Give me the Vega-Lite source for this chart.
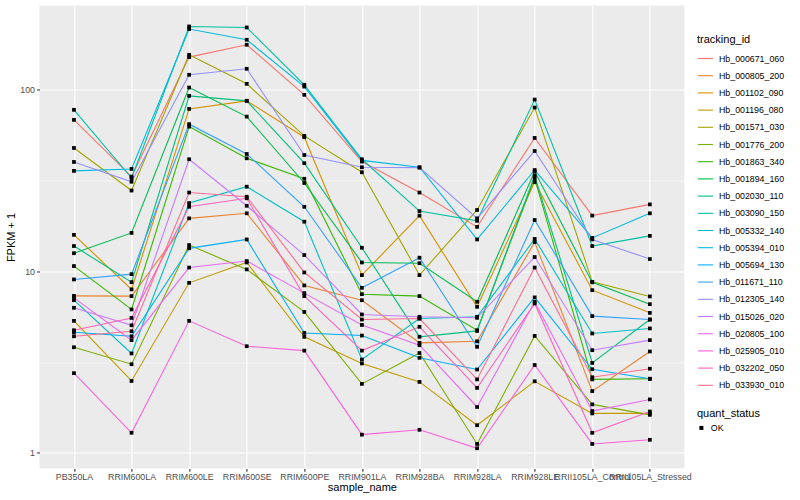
{
  "$schema": "https://vega.github.io/schema/vega-lite/v6.json",
  "width": 645,
  "height": 463,
  "autosize": {"type": "none"},
  "padding": {"left": 39.4, "top": 5.5, "right": 115.6, "bottom": 31.5},
  "background": "white",
  "data": {"values": [
    {"tracking_id":"Hb_000671_060","sample_name":"PB350LA","fpkm1":68.4,"quant_status":"OK"},
    {"tracking_id":"Hb_000671_060","sample_name":"RRIM600LA","fpkm1":33.3,"quant_status":"OK"},
    {"tracking_id":"Hb_000671_060","sample_name":"RRIM600LE","fpkm1":151.7,"quant_status":"OK"},
    {"tracking_id":"Hb_000671_060","sample_name":"RRIM600SE","fpkm1":177.4,"quant_status":"OK"},
    {"tracking_id":"Hb_000671_060","sample_name":"RRIM600PE","fpkm1":94.0,"quant_status":"OK"},
    {"tracking_id":"Hb_000671_060","sample_name":"RRIM901LA","fpkm1":40.3,"quant_status":"OK"},
    {"tracking_id":"Hb_000671_060","sample_name":"RRIM928BA","fpkm1":27.2,"quant_status":"OK"},
    {"tracking_id":"Hb_000671_060","sample_name":"RRIM928LA","fpkm1":17.6,"quant_status":"OK"},
    {"tracking_id":"Hb_000671_060","sample_name":"RRIM928LE","fpkm1":54.4,"quant_status":"OK"},
    {"tracking_id":"Hb_000671_060","sample_name":"RRII105LA_Control","fpkm1":20.3,"quant_status":"OK"},
    {"tracking_id":"Hb_000671_060","sample_name":"RRII105LA_Stressed","fpkm1":23.4,"quant_status":"OK"},

    {"tracking_id":"Hb_000805_200","sample_name":"PB350LA","fpkm1":7.33,"quant_status":"OK"},
    {"tracking_id":"Hb_000805_200","sample_name":"RRIM600LA","fpkm1":7.31,"quant_status":"OK"},
    {"tracking_id":"Hb_000805_200","sample_name":"RRIM600LE","fpkm1":19.6,"quant_status":"OK"},
    {"tracking_id":"Hb_000805_200","sample_name":"RRIM600SE","fpkm1":20.9,"quant_status":"OK"},
    {"tracking_id":"Hb_000805_200","sample_name":"RRIM600PE","fpkm1":8.37,"quant_status":"OK"},
    {"tracking_id":"Hb_000805_200","sample_name":"RRIM901LA","fpkm1":6.94,"quant_status":"OK"},
    {"tracking_id":"Hb_000805_200","sample_name":"RRIM928BA","fpkm1":4.04,"quant_status":"OK"},
    {"tracking_id":"Hb_000805_200","sample_name":"RRIM928LA","fpkm1":4.12,"quant_status":"OK"},
    {"tracking_id":"Hb_000805_200","sample_name":"RRIM928LE","fpkm1":14.5,"quant_status":"OK"},
    {"tracking_id":"Hb_000805_200","sample_name":"RRII105LA_Control","fpkm1":2.19,"quant_status":"OK"},
    {"tracking_id":"Hb_000805_200","sample_name":"RRII105LA_Stressed","fpkm1":3.62,"quant_status":"OK"},

    {"tracking_id":"Hb_001102_090","sample_name":"PB350LA","fpkm1":15.9,"quant_status":"OK"},
    {"tracking_id":"Hb_001102_090","sample_name":"RRIM600LA","fpkm1":7.96,"quant_status":"OK"},
    {"tracking_id":"Hb_001102_090","sample_name":"RRIM600LE","fpkm1":78.6,"quant_status":"OK"},
    {"tracking_id":"Hb_001102_090","sample_name":"RRIM600SE","fpkm1":87.1,"quant_status":"OK"},
    {"tracking_id":"Hb_001102_090","sample_name":"RRIM600PE","fpkm1":54.9,"quant_status":"OK"},
    {"tracking_id":"Hb_001102_090","sample_name":"RRIM901LA","fpkm1":9.54,"quant_status":"OK"},
    {"tracking_id":"Hb_001102_090","sample_name":"RRIM928BA","fpkm1":20.3,"quant_status":"OK"},
    {"tracking_id":"Hb_001102_090","sample_name":"RRIM928LA","fpkm1":6.38,"quant_status":"OK"},
    {"tracking_id":"Hb_001102_090","sample_name":"RRIM928LE","fpkm1":31.1,"quant_status":"OK"},
    {"tracking_id":"Hb_001102_090","sample_name":"RRII105LA_Control","fpkm1":7.88,"quant_status":"OK"},
    {"tracking_id":"Hb_001102_090","sample_name":"RRII105LA_Stressed","fpkm1":5.91,"quant_status":"OK"},

    {"tracking_id":"Hb_001196_080","sample_name":"PB350LA","fpkm1":5.34,"quant_status":"OK"},
    {"tracking_id":"Hb_001196_080","sample_name":"RRIM600LA","fpkm1":2.49,"quant_status":"OK"},
    {"tracking_id":"Hb_001196_080","sample_name":"RRIM600LE","fpkm1":8.65,"quant_status":"OK"},
    {"tracking_id":"Hb_001196_080","sample_name":"RRIM600SE","fpkm1":11.2,"quant_status":"OK"},
    {"tracking_id":"Hb_001196_080","sample_name":"RRIM600PE","fpkm1":4.36,"quant_status":"OK"},
    {"tracking_id":"Hb_001196_080","sample_name":"RRIM901LA","fpkm1":3.11,"quant_status":"OK"},
    {"tracking_id":"Hb_001196_080","sample_name":"RRIM928BA","fpkm1":2.46,"quant_status":"OK"},
    {"tracking_id":"Hb_001196_080","sample_name":"RRIM928LA","fpkm1":1.42,"quant_status":"OK"},
    {"tracking_id":"Hb_001196_080","sample_name":"RRIM928LE","fpkm1":2.48,"quant_status":"OK"},
    {"tracking_id":"Hb_001196_080","sample_name":"RRII105LA_Control","fpkm1":1.65,"quant_status":"OK"},
    {"tracking_id":"Hb_001196_080","sample_name":"RRII105LA_Stressed","fpkm1":1.65,"quant_status":"OK"},

    {"tracking_id":"Hb_001571_030","sample_name":"PB350LA","fpkm1":47.9,"quant_status":"OK"},
    {"tracking_id":"Hb_001571_030","sample_name":"RRIM600LA","fpkm1":27.9,"quant_status":"OK"},
    {"tracking_id":"Hb_001571_030","sample_name":"RRIM600LE","fpkm1":156.2,"quant_status":"OK"},
    {"tracking_id":"Hb_001571_030","sample_name":"RRIM600SE","fpkm1":108.1,"quant_status":"OK"},
    {"tracking_id":"Hb_001571_030","sample_name":"RRIM600PE","fpkm1":55.8,"quant_status":"OK"},
    {"tracking_id":"Hb_001571_030","sample_name":"RRIM901LA","fpkm1":35.2,"quant_status":"OK"},
    {"tracking_id":"Hb_001571_030","sample_name":"RRIM928BA","fpkm1":9.54,"quant_status":"OK"},
    {"tracking_id":"Hb_001571_030","sample_name":"RRIM928LA","fpkm1":21.8,"quant_status":"OK"},
    {"tracking_id":"Hb_001571_030","sample_name":"RRIM928LE","fpkm1":80.0,"quant_status":"OK"},
    {"tracking_id":"Hb_001571_030","sample_name":"RRII105LA_Control","fpkm1":8.76,"quant_status":"OK"},
    {"tracking_id":"Hb_001571_030","sample_name":"RRII105LA_Stressed","fpkm1":7.28,"quant_status":"OK"},

    {"tracking_id":"Hb_001776_200","sample_name":"PB350LA","fpkm1":3.82,"quant_status":"OK"},
    {"tracking_id":"Hb_001776_200","sample_name":"RRIM600LA","fpkm1":3.08,"quant_status":"OK"},
    {"tracking_id":"Hb_001776_200","sample_name":"RRIM600LE","fpkm1":13.97,"quant_status":"OK"},
    {"tracking_id":"Hb_001776_200","sample_name":"RRIM600SE","fpkm1":10.26,"quant_status":"OK"},
    {"tracking_id":"Hb_001776_200","sample_name":"RRIM600PE","fpkm1":5.98,"quant_status":"OK"},
    {"tracking_id":"Hb_001776_200","sample_name":"RRIM901LA","fpkm1":2.40,"quant_status":"OK"},
    {"tracking_id":"Hb_001776_200","sample_name":"RRIM928BA","fpkm1":3.55,"quant_status":"OK"},
    {"tracking_id":"Hb_001776_200","sample_name":"RRIM928LA","fpkm1":1.12,"quant_status":"OK"},
    {"tracking_id":"Hb_001776_200","sample_name":"RRIM928LE","fpkm1":4.41,"quant_status":"OK"},
    {"tracking_id":"Hb_001776_200","sample_name":"RRII105LA_Control","fpkm1":1.85,"quant_status":"OK"},
    {"tracking_id":"Hb_001776_200","sample_name":"RRII105LA_Stressed","fpkm1":1.62,"quant_status":"OK"},

    {"tracking_id":"Hb_001863_340","sample_name":"PB350LA","fpkm1":10.7,"quant_status":"OK"},
    {"tracking_id":"Hb_001863_340","sample_name":"RRIM600LA","fpkm1":6.17,"quant_status":"OK"},
    {"tracking_id":"Hb_001863_340","sample_name":"RRIM600LE","fpkm1":62.8,"quant_status":"OK"},
    {"tracking_id":"Hb_001863_340","sample_name":"RRIM600SE","fpkm1":42.0,"quant_status":"OK"},
    {"tracking_id":"Hb_001863_340","sample_name":"RRIM600PE","fpkm1":32.4,"quant_status":"OK"},
    {"tracking_id":"Hb_001863_340","sample_name":"RRIM901LA","fpkm1":7.49,"quant_status":"OK"},
    {"tracking_id":"Hb_001863_340","sample_name":"RRIM928BA","fpkm1":7.31,"quant_status":"OK"},
    {"tracking_id":"Hb_001863_340","sample_name":"RRIM928LA","fpkm1":4.74,"quant_status":"OK"},
    {"tracking_id":"Hb_001863_340","sample_name":"RRIM928LE","fpkm1":32.7,"quant_status":"OK"},
    {"tracking_id":"Hb_001863_340","sample_name":"RRII105LA_Control","fpkm1":2.54,"quant_status":"OK"},
    {"tracking_id":"Hb_001863_340","sample_name":"RRII105LA_Stressed","fpkm1":2.56,"quant_status":"OK"},

    {"tracking_id":"Hb_001894_160","sample_name":"PB350LA","fpkm1":12.6,"quant_status":"OK"},
    {"tracking_id":"Hb_001894_160","sample_name":"RRIM600LA","fpkm1":16.3,"quant_status":"OK"},
    {"tracking_id":"Hb_001894_160","sample_name":"RRIM600LE","fpkm1":103.1,"quant_status":"OK"},
    {"tracking_id":"Hb_001894_160","sample_name":"RRIM600SE","fpkm1":71.3,"quant_status":"OK"},
    {"tracking_id":"Hb_001894_160","sample_name":"RRIM600PE","fpkm1":30.7,"quant_status":"OK"},
    {"tracking_id":"Hb_001894_160","sample_name":"RRIM901LA","fpkm1":11.2,"quant_status":"OK"},
    {"tracking_id":"Hb_001894_160","sample_name":"RRIM928BA","fpkm1":11.1,"quant_status":"OK"},
    {"tracking_id":"Hb_001894_160","sample_name":"RRIM928LA","fpkm1":6.80,"quant_status":"OK"},
    {"tracking_id":"Hb_001894_160","sample_name":"RRIM928LE","fpkm1":35.5,"quant_status":"OK"},
    {"tracking_id":"Hb_001894_160","sample_name":"RRII105LA_Control","fpkm1":8.70,"quant_status":"OK"},
    {"tracking_id":"Hb_001894_160","sample_name":"RRII105LA_Stressed","fpkm1":6.60,"quant_status":"OK"},

    {"tracking_id":"Hb_002030_110","sample_name":"PB350LA","fpkm1":13.8,"quant_status":"OK"},
    {"tracking_id":"Hb_002030_110","sample_name":"RRIM600LA","fpkm1":8.73,"quant_status":"OK"},
    {"tracking_id":"Hb_002030_110","sample_name":"RRIM600LE","fpkm1":92.8,"quant_status":"OK"},
    {"tracking_id":"Hb_002030_110","sample_name":"RRIM600SE","fpkm1":87.1,"quant_status":"OK"},
    {"tracking_id":"Hb_002030_110","sample_name":"RRIM600PE","fpkm1":39.5,"quant_status":"OK"},
    {"tracking_id":"Hb_002030_110","sample_name":"RRIM901LA","fpkm1":13.5,"quant_status":"OK"},
    {"tracking_id":"Hb_002030_110","sample_name":"RRIM928BA","fpkm1":4.36,"quant_status":"OK"},
    {"tracking_id":"Hb_002030_110","sample_name":"RRIM928LA","fpkm1":4.70,"quant_status":"OK"},
    {"tracking_id":"Hb_002030_110","sample_name":"RRIM928LE","fpkm1":33.7,"quant_status":"OK"},
    {"tracking_id":"Hb_002030_110","sample_name":"RRII105LA_Control","fpkm1":3.13,"quant_status":"OK"},
    {"tracking_id":"Hb_002030_110","sample_name":"RRII105LA_Stressed","fpkm1":5.43,"quant_status":"OK"},

    {"tracking_id":"Hb_003090_150","sample_name":"PB350LA","fpkm1":77.7,"quant_status":"OK"},
    {"tracking_id":"Hb_003090_150","sample_name":"RRIM600LA","fpkm1":32.7,"quant_status":"OK"},
    {"tracking_id":"Hb_003090_150","sample_name":"RRIM600LE","fpkm1":223.8,"quant_status":"OK"},
    {"tracking_id":"Hb_003090_150","sample_name":"RRIM600SE","fpkm1":221.0,"quant_status":"OK"},
    {"tracking_id":"Hb_003090_150","sample_name":"RRIM600PE","fpkm1":106.7,"quant_status":"OK"},
    {"tracking_id":"Hb_003090_150","sample_name":"RRIM901LA","fpkm1":41.5,"quant_status":"OK"},
    {"tracking_id":"Hb_003090_150","sample_name":"RRIM928BA","fpkm1":21.5,"quant_status":"OK"},
    {"tracking_id":"Hb_003090_150","sample_name":"RRIM928LA","fpkm1":19.0,"quant_status":"OK"},
    {"tracking_id":"Hb_003090_150","sample_name":"RRIM928LE","fpkm1":88.5,"quant_status":"OK"},
    {"tracking_id":"Hb_003090_150","sample_name":"RRII105LA_Control","fpkm1":13.8,"quant_status":"OK"},
    {"tracking_id":"Hb_003090_150","sample_name":"RRII105LA_Stressed","fpkm1":15.7,"quant_status":"OK"},

    {"tracking_id":"Hb_005332_140","sample_name":"PB350LA","fpkm1":6.94,"quant_status":"OK"},
    {"tracking_id":"Hb_005332_140","sample_name":"RRIM600LA","fpkm1":3.53,"quant_status":"OK"},
    {"tracking_id":"Hb_005332_140","sample_name":"RRIM600LE","fpkm1":23.8,"quant_status":"OK"},
    {"tracking_id":"Hb_005332_140","sample_name":"RRIM600SE","fpkm1":29.3,"quant_status":"OK"},
    {"tracking_id":"Hb_005332_140","sample_name":"RRIM600PE","fpkm1":18.8,"quant_status":"OK"},
    {"tracking_id":"Hb_005332_140","sample_name":"RRIM901LA","fpkm1":3.27,"quant_status":"OK"},
    {"tracking_id":"Hb_005332_140","sample_name":"RRIM928BA","fpkm1":5.50,"quant_status":"OK"},
    {"tracking_id":"Hb_005332_140","sample_name":"RRIM928LA","fpkm1":5.62,"quant_status":"OK"},
    {"tracking_id":"Hb_005332_140","sample_name":"RRIM928LE","fpkm1":15.1,"quant_status":"OK"},
    {"tracking_id":"Hb_005332_140","sample_name":"RRII105LA_Control","fpkm1":4.55,"quant_status":"OK"},
    {"tracking_id":"Hb_005332_140","sample_name":"RRII105LA_Stressed","fpkm1":4.85,"quant_status":"OK"},

    {"tracking_id":"Hb_005394_010","sample_name":"PB350LA","fpkm1":35.8,"quant_status":"OK"},
    {"tracking_id":"Hb_005394_010","sample_name":"RRIM600LA","fpkm1":36.7,"quant_status":"OK"},
    {"tracking_id":"Hb_005394_010","sample_name":"RRIM600LE","fpkm1":216.5,"quant_status":"OK"},
    {"tracking_id":"Hb_005394_010","sample_name":"RRIM600SE","fpkm1":189.0,"quant_status":"OK"},
    {"tracking_id":"Hb_005394_010","sample_name":"RRIM600PE","fpkm1":104.4,"quant_status":"OK"},
    {"tracking_id":"Hb_005394_010","sample_name":"RRIM901LA","fpkm1":40.9,"quant_status":"OK"},
    {"tracking_id":"Hb_005394_010","sample_name":"RRIM928BA","fpkm1":37.5,"quant_status":"OK"},
    {"tracking_id":"Hb_005394_010","sample_name":"RRIM928LA","fpkm1":15.0,"quant_status":"OK"},
    {"tracking_id":"Hb_005394_010","sample_name":"RRIM928LE","fpkm1":36.2,"quant_status":"OK"},
    {"tracking_id":"Hb_005394_010","sample_name":"RRII105LA_Control","fpkm1":15.3,"quant_status":"OK"},
    {"tracking_id":"Hb_005394_010","sample_name":"RRII105LA_Stressed","fpkm1":20.9,"quant_status":"OK"},

    {"tracking_id":"Hb_005694_130","sample_name":"PB350LA","fpkm1":4.62,"quant_status":"OK"},
    {"tracking_id":"Hb_005694_130","sample_name":"RRIM600LA","fpkm1":4.39,"quant_status":"OK"},
    {"tracking_id":"Hb_005694_130","sample_name":"RRIM600LE","fpkm1":13.4,"quant_status":"OK"},
    {"tracking_id":"Hb_005694_130","sample_name":"RRIM600SE","fpkm1":15.0,"quant_status":"OK"},
    {"tracking_id":"Hb_005694_130","sample_name":"RRIM600PE","fpkm1":4.58,"quant_status":"OK"},
    {"tracking_id":"Hb_005694_130","sample_name":"RRIM901LA","fpkm1":4.43,"quant_status":"OK"},
    {"tracking_id":"Hb_005694_130","sample_name":"RRIM928BA","fpkm1":3.34,"quant_status":"OK"},
    {"tracking_id":"Hb_005694_130","sample_name":"RRIM928LA","fpkm1":2.88,"quant_status":"OK"},
    {"tracking_id":"Hb_005694_130","sample_name":"RRIM928LE","fpkm1":7.19,"quant_status":"OK"},
    {"tracking_id":"Hb_005694_130","sample_name":"RRII105LA_Control","fpkm1":2.89,"quant_status":"OK"},
    {"tracking_id":"Hb_005694_130","sample_name":"RRII105LA_Stressed","fpkm1":2.56,"quant_status":"OK"},

    {"tracking_id":"Hb_011671_110","sample_name":"PB350LA","fpkm1":9.03,"quant_status":"OK"},
    {"tracking_id":"Hb_011671_110","sample_name":"RRIM600LA","fpkm1":9.66,"quant_status":"OK"},
    {"tracking_id":"Hb_011671_110","sample_name":"RRIM600LE","fpkm1":64.8,"quant_status":"OK"},
    {"tracking_id":"Hb_011671_110","sample_name":"RRIM600SE","fpkm1":44.4,"quant_status":"OK"},
    {"tracking_id":"Hb_011671_110","sample_name":"RRIM600PE","fpkm1":22.7,"quant_status":"OK"},
    {"tracking_id":"Hb_011671_110","sample_name":"RRIM901LA","fpkm1":8.12,"quant_status":"OK"},
    {"tracking_id":"Hb_011671_110","sample_name":"RRIM928BA","fpkm1":11.9,"quant_status":"OK"},
    {"tracking_id":"Hb_011671_110","sample_name":"RRIM928LA","fpkm1":3.84,"quant_status":"OK"},
    {"tracking_id":"Hb_011671_110","sample_name":"RRIM928LE","fpkm1":19.2,"quant_status":"OK"},
    {"tracking_id":"Hb_011671_110","sample_name":"RRII105LA_Control","fpkm1":5.67,"quant_status":"OK"},
    {"tracking_id":"Hb_011671_110","sample_name":"RRII105LA_Stressed","fpkm1":5.43,"quant_status":"OK"},

    {"tracking_id":"Hb_012305_140","sample_name":"PB350LA","fpkm1":40.1,"quant_status":"OK"},
    {"tracking_id":"Hb_012305_140","sample_name":"RRIM600LA","fpkm1":31.2,"quant_status":"OK"},
    {"tracking_id":"Hb_012305_140","sample_name":"RRIM600LE","fpkm1":121.2,"quant_status":"OK"},
    {"tracking_id":"Hb_012305_140","sample_name":"RRIM600SE","fpkm1":130.8,"quant_status":"OK"},
    {"tracking_id":"Hb_012305_140","sample_name":"RRIM600PE","fpkm1":43.8,"quant_status":"OK"},
    {"tracking_id":"Hb_012305_140","sample_name":"RRIM901LA","fpkm1":37.5,"quant_status":"OK"},
    {"tracking_id":"Hb_012305_140","sample_name":"RRIM928BA","fpkm1":37.3,"quant_status":"OK"},
    {"tracking_id":"Hb_012305_140","sample_name":"RRIM928LA","fpkm1":19.6,"quant_status":"OK"},
    {"tracking_id":"Hb_012305_140","sample_name":"RRIM928LE","fpkm1":46.1,"quant_status":"OK"},
    {"tracking_id":"Hb_012305_140","sample_name":"RRII105LA_Control","fpkm1":15.0,"quant_status":"OK"},
    {"tracking_id":"Hb_012305_140","sample_name":"RRII105LA_Stressed","fpkm1":11.7,"quant_status":"OK"},

    {"tracking_id":"Hb_015026_020","sample_name":"PB350LA","fpkm1":6.30,"quant_status":"OK"},
    {"tracking_id":"Hb_015026_020","sample_name":"RRIM600LA","fpkm1":5.05,"quant_status":"OK"},
    {"tracking_id":"Hb_015026_020","sample_name":"RRIM600LE","fpkm1":41.5,"quant_status":"OK"},
    {"tracking_id":"Hb_015026_020","sample_name":"RRIM600SE","fpkm1":23.0,"quant_status":"OK"},
    {"tracking_id":"Hb_015026_020","sample_name":"RRIM600PE","fpkm1":12.3,"quant_status":"OK"},
    {"tracking_id":"Hb_015026_020","sample_name":"RRIM901LA","fpkm1":5.79,"quant_status":"OK"},
    {"tracking_id":"Hb_015026_020","sample_name":"RRIM928BA","fpkm1":5.62,"quant_status":"OK"},
    {"tracking_id":"Hb_015026_020","sample_name":"RRIM928LA","fpkm1":5.55,"quant_status":"OK"},
    {"tracking_id":"Hb_015026_020","sample_name":"RRIM928LE","fpkm1":12.0,"quant_status":"OK"},
    {"tracking_id":"Hb_015026_020","sample_name":"RRII105LA_Control","fpkm1":3.68,"quant_status":"OK"},
    {"tracking_id":"Hb_015026_020","sample_name":"RRII105LA_Stressed","fpkm1":4.18,"quant_status":"OK"},

    {"tracking_id":"Hb_020805_100","sample_name":"PB350LA","fpkm1":7.15,"quant_status":"OK"},
    {"tracking_id":"Hb_020805_100","sample_name":"RRIM600LA","fpkm1":4.18,"quant_status":"OK"},
    {"tracking_id":"Hb_020805_100","sample_name":"RRIM600LE","fpkm1":10.5,"quant_status":"OK"},
    {"tracking_id":"Hb_020805_100","sample_name":"RRIM600SE","fpkm1":11.4,"quant_status":"OK"},
    {"tracking_id":"Hb_020805_100","sample_name":"RRIM600PE","fpkm1":7.59,"quant_status":"OK"},
    {"tracking_id":"Hb_020805_100","sample_name":"RRIM901LA","fpkm1":5.07,"quant_status":"OK"},
    {"tracking_id":"Hb_020805_100","sample_name":"RRIM928BA","fpkm1":3.92,"quant_status":"OK"},
    {"tracking_id":"Hb_020805_100","sample_name":"RRIM928LA","fpkm1":1.79,"quant_status":"OK"},
    {"tracking_id":"Hb_020805_100","sample_name":"RRIM928LE","fpkm1":6.80,"quant_status":"OK"},
    {"tracking_id":"Hb_020805_100","sample_name":"RRII105LA_Control","fpkm1":1.70,"quant_status":"OK"},
    {"tracking_id":"Hb_020805_100","sample_name":"RRII105LA_Stressed","fpkm1":1.97,"quant_status":"OK"},

    {"tracking_id":"Hb_025905_010","sample_name":"PB350LA","fpkm1":2.75,"quant_status":"OK"},
    {"tracking_id":"Hb_025905_010","sample_name":"RRIM600LA","fpkm1":1.29,"quant_status":"OK"},
    {"tracking_id":"Hb_025905_010","sample_name":"RRIM600LE","fpkm1":5.34,"quant_status":"OK"},
    {"tracking_id":"Hb_025905_010","sample_name":"RRIM600SE","fpkm1":3.87,"quant_status":"OK"},
    {"tracking_id":"Hb_025905_010","sample_name":"RRIM600PE","fpkm1":3.66,"quant_status":"OK"},
    {"tracking_id":"Hb_025905_010","sample_name":"RRIM901LA","fpkm1":1.26,"quant_status":"OK"},
    {"tracking_id":"Hb_025905_010","sample_name":"RRIM928BA","fpkm1":1.34,"quant_status":"OK"},
    {"tracking_id":"Hb_025905_010","sample_name":"RRIM928LA","fpkm1":1.06,"quant_status":"OK"},
    {"tracking_id":"Hb_025905_010","sample_name":"RRIM928LE","fpkm1":3.05,"quant_status":"OK"},
    {"tracking_id":"Hb_025905_010","sample_name":"RRII105LA_Control","fpkm1":1.12,"quant_status":"OK"},
    {"tracking_id":"Hb_025905_010","sample_name":"RRII105LA_Stressed","fpkm1":1.18,"quant_status":"OK"},

    {"tracking_id":"Hb_032202_050","sample_name":"PB350LA","fpkm1":4.74,"quant_status":"OK"},
    {"tracking_id":"Hb_032202_050","sample_name":"RRIM600LA","fpkm1":5.54,"quant_status":"OK"},
    {"tracking_id":"Hb_032202_050","sample_name":"RRIM600LE","fpkm1":22.7,"quant_status":"OK"},
    {"tracking_id":"Hb_032202_050","sample_name":"RRIM600SE","fpkm1":25.3,"quant_status":"OK"},
    {"tracking_id":"Hb_032202_050","sample_name":"RRIM600PE","fpkm1":7.31,"quant_status":"OK"},
    {"tracking_id":"Hb_032202_050","sample_name":"RRIM901LA","fpkm1":3.66,"quant_status":"OK"},
    {"tracking_id":"Hb_032202_050","sample_name":"RRIM928BA","fpkm1":4.95,"quant_status":"OK"},
    {"tracking_id":"Hb_032202_050","sample_name":"RRIM928LA","fpkm1":2.28,"quant_status":"OK"},
    {"tracking_id":"Hb_032202_050","sample_name":"RRIM928LE","fpkm1":6.66,"quant_status":"OK"},
    {"tracking_id":"Hb_032202_050","sample_name":"RRII105LA_Control","fpkm1":1.29,"quant_status":"OK"},
    {"tracking_id":"Hb_032202_050","sample_name":"RRII105LA_Stressed","fpkm1":1.69,"quant_status":"OK"},

    {"tracking_id":"Hb_033930_010","sample_name":"PB350LA","fpkm1":4.39,"quant_status":"OK"},
    {"tracking_id":"Hb_033930_010","sample_name":"RRIM600LA","fpkm1":4.68,"quant_status":"OK"},
    {"tracking_id":"Hb_033930_010","sample_name":"RRIM600LE","fpkm1":27.2,"quant_status":"OK"},
    {"tracking_id":"Hb_033930_010","sample_name":"RRIM600SE","fpkm1":25.8,"quant_status":"OK"},
    {"tracking_id":"Hb_033930_010","sample_name":"RRIM600PE","fpkm1":9.87,"quant_status":"OK"},
    {"tracking_id":"Hb_033930_010","sample_name":"RRIM901LA","fpkm1":5.43,"quant_status":"OK"},
    {"tracking_id":"Hb_033930_010","sample_name":"RRIM928BA","fpkm1":5.50,"quant_status":"OK"},
    {"tracking_id":"Hb_033930_010","sample_name":"RRIM928LA","fpkm1":2.54,"quant_status":"OK"},
    {"tracking_id":"Hb_033930_010","sample_name":"RRIM928LE","fpkm1":10.5,"quant_status":"OK"},
    {"tracking_id":"Hb_033930_010","sample_name":"RRII105LA_Control","fpkm1":2.61,"quant_status":"OK"},
    {"tracking_id":"Hb_033930_010","sample_name":"RRII105LA_Stressed","fpkm1":2.91,"quant_status":"OK"}
  ]},
  "encoding": {
    "x": {
      "field": "sample_name", "type": "nominal",
      "scale": {"type": "point", "padding": 0.6, "domain": ["PB350LA","RRIM600LA","RRIM600LE","RRIM600SE","RRIM600PE","RRIM901LA","RRIM928BA","RRIM928LA","RRIM928LE","RRII105LA_Control","RRII105LA_Stressed"]},
      "axis": {"title": "sample_name", "labelAngle": 0, "labelOverlap": false, "labelBound": false, "labelFlush": false, "grid": true, "labelPadding": 1.2, "titlePadding": 0}
    },
    "y": {
      "field": "fpkm1", "type": "quantitative",
      "scale": {"type": "log", "domain": [0.82, 292], "nice": false, "zero": false},
      "axis": {
        "title": "FPKM + 1",
        "values": [1, 3.16228, 10, 31.6228, 100],
        "labelExpr": "datum.value == 1 ? '1' : datum.value == 10 ? '10' : datum.value == 100 ? '100' : ''",
        "gridWidth": {"condition": {"test": "datum.value == 1 || datum.value == 10 || datum.value == 100", "value": 1.1}, "value": 0.55},
        "tickOpacity": {"condition": {"test": "datum.value == 1 || datum.value == 10 || datum.value == 100", "value": 1}, "value": 0},
        "labelPadding": 2.2,
        "titlePadding": 3
      }
    }
  },
  "layer": [
    {
      "mark": {"type": "line", "strokeWidth": 1.1},
      "encoding": {
        "color": {
          "field": "tracking_id", "type": "nominal",
          "scale": {
            "domain": ["Hb_000671_060","Hb_000805_200","Hb_001102_090","Hb_001196_080","Hb_001571_030","Hb_001776_200","Hb_001863_340","Hb_001894_160","Hb_002030_110","Hb_003090_150","Hb_005332_140","Hb_005394_010","Hb_005694_130","Hb_011671_110","Hb_012305_140","Hb_015026_020","Hb_020805_100","Hb_025905_010","Hb_032202_050","Hb_033930_010"],
            "range": ["#F8766D","#EA8331","#D89000","#C09B00","#A3A500","#7CAE00","#39B600","#00BB4E","#00BF7D","#00C1A3","#00BFC4","#00BAE0","#00B0F6","#35A2FF","#9590FF","#C77CFF","#E76BF3","#FA62DB","#FF62BC","#FF6C91"]
          },
          "legend": {
            "title": "tracking_id", "orient": "none", "legendX": 657.6, "legendY": 28.5,
            "symbolType": "stroke", "symbolSize": 225, "symbolStrokeWidth": 1.1,
            "rowPadding": 3.2, "titlePadding": 5, "labelOffset": 5
          }
        }
      }
    },
    {
      "mark": {"type": "point", "shape": "square", "filled": true, "color": "black", "size": 14, "opacity": 1},
      "encoding": {
        "shape": {
          "field": "quant_status", "type": "nominal",
          "scale": {"range": ["square"]},
          "legend": {
            "title": "quant_status", "orient": "none", "legendX": 657.6, "legendY": 402,
            "symbolSize": 16, "symbolFillColor": "black", "symbolStrokeColor": "black",
            "titlePadding": 5, "labelOffset": 5, "symbolOffset": 0
          }
        }
      }
    }
  ],
  "config": {
    "font": "Liberation Sans",
    "view": {"fill": "#EBEBEB", "stroke": null},
    "axis": {
      "domain": false,
      "gridColor": "white",
      "gridWidth": 1.1,
      "tickColor": "#333333",
      "tickSize": 2.75,
      "tickWidth": 1.1,
      "labelColor": "#4D4D4D",
      "labelFontSize": 8.8,
      "labelFont": "Liberation Sans",
      "titleFontSize": 11,
      "titleFontWeight": "normal",
      "titleColor": "black",
      "titleFont": "Liberation Sans"
    },
    "legend": {
      "titleFontSize": 11,
      "titleFontWeight": "normal",
      "titleColor": "black",
      "labelFontSize": 8.8,
      "labelColor": "black",
      "titleFont": "Liberation Sans",
      "labelFont": "Liberation Sans"
    }
  }
}
